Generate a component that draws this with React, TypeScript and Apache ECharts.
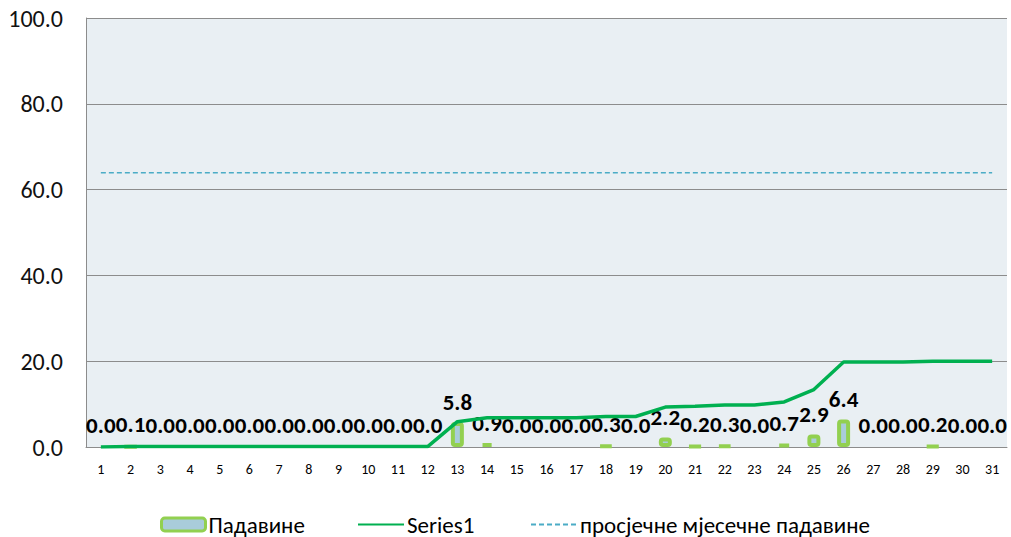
import React, { useEffect, useRef } from "react";
import * as echarts from "echarts";

const days: string[] = [
  "1","2","3","4","5","6","7","8","9","10","11","12","13","14","15","16",
  "17","18","19","20","21","22","23","24","25","26","27","28","29","30","31",
];
const precipitation: number[] = [
  0.0, 0.1, 0.0, 0.0, 0.0, 0.0, 0.0, 0.0, 0.0, 0.0, 0.0, 0.0, 5.8, 0.9, 0.0, 0.0,
  0.0, 0.3, 0.0, 2.2, 0.2, 0.3, 0.0, 0.7, 2.9, 6.4, 0.0, 0.0, 0.2, 0.0, 0.0,
];
const cumulative: number[] = [
  0.0, 0.1, 0.1, 0.1, 0.1, 0.1, 0.1, 0.1, 0.1, 0.1, 0.1, 0.1, 5.9, 6.8, 6.8, 6.8,
  6.8, 7.1, 7.1, 9.3, 9.5, 9.8, 9.8, 10.5, 13.4, 19.8, 19.8, 19.8, 20.0, 20.0, 20.0,
];
const monthlyAverage: number[] = [
  63.9, 63.9, 63.9, 63.9, 63.9, 63.9, 63.9, 63.9, 63.9, 63.9, 63.9, 63.9, 63.9, 63.9, 63.9, 63.9,
  63.9, 63.9, 63.9, 63.9, 63.9, 63.9, 63.9, 63.9, 63.9, 63.9, 63.9, 63.9, 63.9, 63.9, 63.9,
];
const seriesNames: string[] = ["Падавине", "Series1", "просјечне мјесечне падавине"];

const FONT = "Carlito, 'Liberation Sans Narrow', 'Open Sans', sans-serif";

export default function App() {
  const ref = useRef<HTMLDivElement>(null);
  useEffect(() => {
    if (!ref.current) return;
    const chart = echarts.init(ref.current, undefined, { renderer: "svg" });
    const legendBase = {
      top: 508,
      itemWidth: 46,
      itemHeight: 14,
      itemGap: 4,
      textStyle: { fontFamily: FONT, fontSize: 23, color: "#000", padding: [0, 0, 0, -2] },
    };
    chart.setOption({
      animation: false,
      backgroundColor: "#ffffff",
      grid: {
        left: 86,
        right: 4,
        top: 18,
        bottom: 90,
        show: true,
        backgroundColor: "#E9EFF3",
        borderWidth: 0,
      },
      legend: [
        {
          ...legendBase,
          left: 155,
          itemWidth: 44,
          itemHeight: 13,
          data: [{ name: seriesNames[0], itemStyle: { borderWidth: 3 } }],
        },
        {
          ...legendBase,
          left: 352,
          data: [{ name: seriesNames[1], itemStyle: { opacity: 0 } }],
        },
        {
          ...legendBase,
          left: 525,
          data: [{ name: seriesNames[2], itemStyle: { opacity: 0 } }],
        },
      ],
      xAxis: {
        type: "category",
        data: days,
        boundaryGap: true,
        axisLine: { show: true, lineStyle: { color: "#8C8C8C", width: 1 } },
        axisTick: { show: false },
        axisLabel: { fontFamily: FONT, fontSize: 14, color: "#000", margin: 15 },
      },
      yAxis: {
        type: "value",
        min: 0,
        max: 100,
        interval: 20,
        axisLine: { show: true, lineStyle: { color: "#8C8C8C", width: 1 } },
        axisTick: { show: false },
        splitLine: { show: true, lineStyle: { color: "#8C8C8C", width: 1 } },
        axisLabel: {
          fontFamily: FONT,
          fontSize: 24,
          color: "#111",
          margin: 23,
          formatter: (v: number) => v.toFixed(1),
        },
      },
      series: [
        {
          name: seriesNames[0],
          type: "bar",
          barWidth: 13,
          data: precipitation.map((v) =>
            v === 0
              ? { value: v, itemStyle: { borderWidth: 0 }, label: { distance: 11 } }
              : { value: v }
          ),
          itemStyle: {
            color: "#A9CCDA",
            borderColor: "#92D050",
            borderWidth: 4,
            borderRadius: 2,
          },
          label: {
            show: true,
            position: "top",
            distance: 9,
            fontFamily: FONT,
            fontSize: 23,
            fontWeight: "bold",
            color: "#000",
            formatter: (p: any) => Number(p.value).toFixed(1),
          },
          z: 2,
        },
        {
          name: seriesNames[1],
          type: "line",
          data: cumulative,
          symbol: "none",
          lineStyle: { color: "#00B050", width: 3.5 },
          itemStyle: { color: "#00B050" },
          z: 3,
        },
        {
          name: seriesNames[2],
          type: "line",
          data: monthlyAverage,
          symbol: "none",
          lineStyle: { color: "#4BACC6", width: 1.5, type: [5, 3] },
          itemStyle: { color: "#4BACC6" },
          z: 3,
        },
      ],
    });
    return () => chart.dispose();
  }, []);
  return (
    <div
      ref={ref}
      style={{ position: "fixed", left: 0, top: 0, width: 1011, height: 537 }}
    />
  );
}
